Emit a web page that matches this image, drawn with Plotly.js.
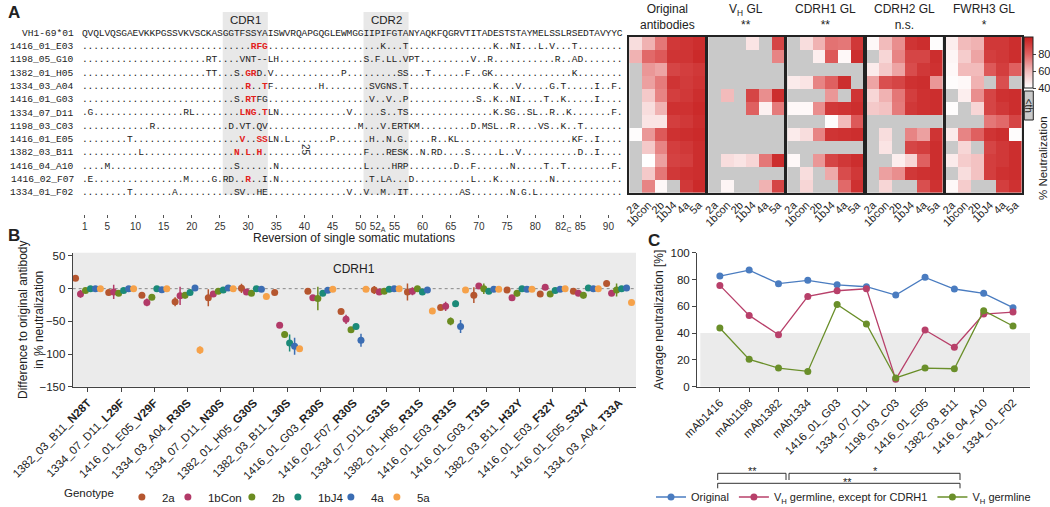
<!DOCTYPE html>
<html>
<head>
<meta charset="utf-8">
<script src="https://cdn.plot.ly/plotly-3.0.1.min.js"></script>
<style>
  body { margin: 0; background: #fff; }
  #fig { width: 1050px; height: 507px; }
</style>
</head>
<body>
<div id="fig"></div>
<script>
// ---------- panel A: alignment ----------
const germline = 'QVQLVQSGAEVKKPGSSVKVSCKASGGTFSSYAISWVRQAPGQGLEWMGGIIPIFGTANYAQKFQGRVTITADESTSTAYMELSSLRSEDTAVYYC';
const antibodies = ['1416_01_E03', '1198_05_G10', '1382_01_H05', '1334_03_A04', '1416_01_G03', '1334_07_D11',
  '1198_03_C03', '1416_01_E05', '1382_03_B11', '1416_04_A10', '1416_02_F07', '1334_01_F02'];
// amino acid + position in the aligned string (dots elsewhere)
const mutations = [
  'R31 F32 G33 K54 T58 K74 N77 I78 L82 V84 T88',
  'R23 T24 V29 N30 T31 -32 -33 L34 H35 S51 F53 L55 L56 V58 P59 T60 V70 R73 R85 A88 D89',
  'T23 T24 S28 G30 R31 D32 V34 P47 S57 S58 T62 F69 G72 K73 K88',
  'R30 T33 F34 H43 S52 V53 G54 N55 S56 T58 K74 V78 G84 T86 I92 F95',
  'S28 R30 T31 F32 G33 V52 V55 P58 S71 K74 N77 I78 T83 K86 I92',
  'G2 R19 L20 L29 N30 G31 T33 L34 N35 V48 S54 T57 S58 K74 S76 G77 S80 L81 R84 K87 F95',
  'R13 D27 V29 T30 Q32 V33 M50 V54 E56 R57 T58 K59 M60 D70 M72 S73 L74 R77 V82 S83 K86 T89',
  'T9 V29 S32 S33 L34 N35 L37 P45 H52 N55 G57 R63 K66 L67 K88 F89 I92',
  'L11 N28 L30 H32 F51 R55 E56 S57 K58 N61 R63 D64 S69 L75 V78 D89 I92',
  'M5 S28 N35 L51 H56 R57 P58 D67 F70 N77 T83 T86 F95',
  'E2 M19 G24 R26 D27 R30 I33 N35 T52 L54 A55 D59 L70 K74 N84',
  'T9 A17 S28 V29 H32 E33 V48 V51 M54 I57 T58 A68 S69 N77 G79 L81'
];
const redPos = [[31, 32, 33], [], [30, 31], [30, 33], [30, 31], [29, 30, 31, 33], [], [29, 32, 33], [28, 30, 32], [], [30], []];
const rulerIdx = [1, 5, 10, 15, 20, 25, 30, 35, 40, 45, 50, 53, 56, 61, 66, 71, 76, 81, 86, 89, 94];
const rulerText = ['1', '5', '10', '15', '20', '25', '30', '35', '40', '45', '50', '52<sub>A</sub>', '55', '60', '65', '70', '75', '80', '82<sub>C</sub>', '85', '90'];

// ---------- panel A: heatmaps (% neutralization, null = below threshold) ----------
const N = null;
const hmCols = ['2a', '1bcon', '2b', '1bJ4', '4a', '5a'];
const hmTitles = ['Original<br>antibodies', 'V<sub>H</sub> GL<br>**', 'CDRH1 GL<br>**', 'CDRH2 GL<br>n.s.', 'FWRH3 GL<br>*'];
const hmOriginal = [
  [50, 62, 75, 92, 93, 95], [62, 78, 82, 93, 93, 96], [N, 68, 65, 88, 90, 92], [N, 66, 74, 93, 91, 93],
  [N, 56, 72, 90, 92, 95], [N, 50, 62, 94, 94, 96], [N, 48, 48, 90, 92, 95], [41, 68, 82, 94, 95, 96],
  [N, 56, 72, 90, 92, 95], [N, 40, 66, 89, 90, 95], [N, 56, 75, 92, 94, 95], [N, 72, 42, N, 92, 96]];
const hmVhGL = [
  [N, N, N, 48, N, 88], [N, N, N, N, N, 72], [N, N, N, N, N, N], [N, N, N, N, N, N],
  [N, 60, N, 88, 70, 95], [N, N, N, 80, 44, 74], [N, N, N, N, N, N], [N, N, N, N, N, N],
  [N, N, N, N, N, N], [N, 50, 48, 52, 75, 95], [N, N, N, N, N, N], [N, 43, N, N, 62, 88]];
const hmCdrh1GL = [
  [N, 50, 62, 76, 75, 92], [N, N, 45, 82, 42, 95], [N, N, N, N, N, N], [46, 48, 72, 80, 95, N],
  [N, N, N, 68, N, 93], [42, 42, 70, 92, 93, 95], [N, N, N, 41, 60, 82], [46, 50, 72, 93, 94, 95],
  [N, N, N, N, N, N], [42, N, 68, 88, 92, 95], [N, 50, N, 64, 86, 92], [N, 52, N, N, 78, 94]];
const hmCdrh2GL = [
  [42, 60, 70, 93, 95, 41], [N, 52, 72, 88, 88, 95], [46, 56, 65, 86, 92, 94], [65, 85, 88, 94, 95, 68],
  [52, 62, 75, 90, 94, 95], [56, 58, 74, 92, 94, 95], [N, N, N, N, N, N], [N, 50, N, 72, 66, 93],
  [N, 48, N, 88, 90, 95], [N, N, 45, 52, 80, 95], [N, 66, 70, 92, 94, 95], [N, 52, N, N, 85, 94]];
const hmFwrh3GL = [
  [45, 60, 62, 92, 92, 95], [43, 55, 65, 90, 92, 95], [42, 60, 60, 82, 90, 80], [41, 42, 62, N, 85, N],
  [N, 45, 70, 88, 94, 95], [41, N, 52, 88, 92, 95], [N, N, N, 75, 78, 88], [46, 72, 80, 93, 95, 41],
  [N, 52, N, 88, 92, 95], [46, 55, 58, 90, 92, 95], [N, 50, 58, 90, 94, 95], [42, 55, N, N, 90, 94]];

// ---------- panel B ----------
const mutIds = ['1382_03_B11_N28T', '1334_07_D11_L29F', '1416_01_E05_V29F', '1334_03_A04_R30S', '1334_07_D11_N30S',
  '1382_01_H05_G30S', '1382_03_B11_L30S', '1416_01_G03_R30S', '1416_02_F07_R30S', '1334_07_D11_G31S',
  '1382_01_H05_R31S', '1416_01_E03_R31S', '1416_01_G03_T31S', '1382_03_B11_H32Y', '1416_01_E03_F32Y',
  '1416_01_E05_S32Y', '1334_03_A04_T33A'];
const genotypes = ['2a', '1bCon', '2b', '1bJ4', '4a', '5a'];
const genoColors = ['#b5562f', '#b23a68', '#6b8c21', '#1b8a78', '#3b6db3', '#f6a24a'];
const diff2a = [16, -6, -10, -20, -14, 0.5, -6, -4, -35, -2, -5, -29, -10, -2, -8, -4, 8];
const diff1bCon = [-8, -5, -21, -11, -8, -5, -56, -14, -47, -5, -4, -27, 4, -14, 2, -7, -7];
const diff2b = [-3, -7, -13, -10, -4, -7, -70, -15, -63, -4, 0, -50, 0, -7, -8, -10, -2];
const diff1bJ4 = [0, -3, 0, -6, -2, 0, -83, -7, -58, -1, -5, -23, -4, 0, -3, 1, 0];
const diff4a = [0, 0, -1.5, 1, 1, -1, -88, -2.5, -79, 0, -2, -58, -1, -1, -1, 0, 1];
const diff5a = [0, 0, 0, -94, 0, -12, -92, -1, -1, 0, -34, -2, -1, -1, 0, 0, -21];
const err2a = [2, 4, 2, 7, 13, 7, 3, 4, 3, 6, 13, 2, 12, 2, 2, 4, 2];
const err1bCon = [6, 11, 6, 14, 4, 2, 2, 4, 7, 2, 6, 7, 2, 2, 2, 2, 2];
const err2b = [2, 2, 2, 5, 2, 2, 5, 18, 2, 2, 2, 6, 8, 5, 2, 5, 10];
const err1bJ4 = [2, 2, 2, 2, 2, 2, 13, 3, 4, 2, 2, 5, 2, 2, 2, 2, 2];
const err4a = [2, 2, 2, 2, 2, 2, 13, 2, 10, 2, 2, 10, 2, 2, 2, 2, 2];
const err5a = [2, 2, 2, 6, 2, 2, 3, 2, 2, 2, 2, 2, 2, 2, 2, 2, 2];

// ---------- panel C ----------
const abLabels = ['mAb1416', 'mAb1198', 'mAb1382', 'mAb1334', '1416_01_G03', '1334_07_D11', '1198_03_C03',
  '1416_01_E05', '1382_03_B11', '1416_04_A10', '1334_01_F02'];
const neutOriginal = [82.6, 87, 76.9, 79.4, 76, 74.6, 68.4, 81.6, 72.9, 69.7, 59];
const neutExceptCdrh1 = [75.6, 53.2, 38.8, 67.4, 71.6, 73.1, 5.5, 42.3, 29.4, 54.2, 55.7];
const neutVhGermline = [43.8, 20.4, 13.9, 11.4, 61.4, 46.8, 6.5, 13.9, 13.4, 56.7, 45.3];

// pixel -> paper helpers
const W = 1050, H = 507;
const PX = x => x / W;
const PY = y => 1 - y / H;

// one text point per residue, so every letter sits on its alignment column
const seqX = [], seqY = [], seqT = [], seqC = [];
const seqRows = [germline].concat(mutations.map(m => {
  const chars = germline.split('').map(() => '.');
  m.split(' ').forEach(s => { chars[+s.slice(1) - 1] = s[0]; });
  return chars.join('');
}));
seqRows.forEach((row, r) => {
  const red = r > 0 ? redPos[r - 1] : [];
  row.split('').forEach((c, i) => {
    const isRed = red.includes(i + 1);
    seqX.push(i + 1); seqY.push(r);
    seqT.push(isRed ? '<b>' + c + '</b>' : c);
    seqC.push(isRed ? '#e3221c' : '#222');
  });
});
const seqNames = ['VH1-69*01'].concat(antibodies);
const mono = 'Liberation Mono, Courier New, monospace';

const data = [];
data.push({
  type: 'scatter', mode: 'text', x: seqX, y: seqY, text: seqT,
  textposition: 'middle center', textfont: {family: mono, size: 9.6, color: seqC},
  xaxis: 'x8', yaxis: 'y8', showlegend: false, hoverinfo: 'skip', cliponaxis: false, offsetgroup: 's'
});

// heatmaps
const hmData = [hmOriginal, hmVhGL, hmCdrh1GL, hmCdrh2GL, hmFwrh3GL];
const hmX = [[629.3, 705], [708.3, 784.3], [787.3, 863.3], [866.7, 942.7], [945.7, 1021.7]];
const redScale = [[0, '#ffffff'], [0.33, '#f2bcbc'], [0.67, '#df5f5f'], [1, '#c61d1d']];
hmData.forEach((z, k) => {
  data.push({
    type: 'heatmap', z: z, x: hmCols, y: antibodies, xaxis: 'x' + (k + 3), yaxis: 'y' + (k + 3),
    zmin: 40, zmax: 100, colorscale: redScale, showscale: k === 0, hoverongaps: false,
    colorbar: {
      x: PX(1024.3), xanchor: 'left', y: PY(62.8), yanchor: 'middle', len: 51, lenmode: 'pixels',
      thickness: 9, outlinewidth: 1, outlinecolor: '#222', tickvals: [40, 60, 80], ticks: 'outside',
      ticklen: 3, tickfont: {size: 11}, xpad: 0, ypad: 0
    }
  });
});

// panel B
const diffs = [diff2a, diff1bCon, diff2b, diff1bJ4, diff4a, diff5a];
const errs = [err2a, err1bCon, err2b, err1bJ4, err4a, err5a];
const legendW = [1, 19, 1, 8, 1, 14];
genotypes.forEach((g, k) => {
  data.push({
    type: 'scatter', mode: 'markers', x: mutIds, y: diffs[k], name: g, xaxis: 'x', yaxis: 'y',
    marker: {size: 7, color: genoColors[k]}, legend: 'legend', legendwidth: legendW[k], cliponaxis: false,
    error_y: {type: 'data', array: errs[k], visible: true, color: genoColors[k], thickness: 1.5, width: 0}
  });
});

// panel C
const cSeries = [
  {name: 'Original', y: neutOriginal, color: '#4a7cc0'},
  {name: 'V<sub>H</sub> germline, except for CDRH1', y: neutExceptCdrh1, color: '#b8406a'},
  {name: 'V<sub>H</sub> germline', y: neutVhGermline, color: '#6a8f2a'}
];
cSeries.forEach(s => {
  data.push({
    type: 'scatter', mode: 'lines+markers', x: abLabels, y: s.y, name: s.name, xaxis: 'x2', yaxis: 'y2',
    line: {color: s.color, width: 1.3}, marker: {size: 7, color: s.color}, legend: 'legend2', offsetgroup: 'c'
  });
});

const axisLine = {showline: true, linecolor: '#444', linewidth: 1, showgrid: false, zeroline: false,
  ticks: 'outside', ticklen: 4, tickcolor: '#444'};

const layout = {
  width: W, height: H,
  margin: {l: 0, r: 0, t: 0, b: 0, autoexpand: false},
  paper_bgcolor: '#fff', plot_bgcolor: 'rgba(0,0,0,0)',
  font: {family: 'Liberation Sans, Arial, sans-serif', size: 12, color: '#222'},
  scattermode: 'group', scattergap: 0.1,
  xaxis: Object.assign({}, axisLine, {
    domain: [PX(72.7), PX(636)], anchor: 'y', type: 'category', range: [-0.46, 16.51],
    tickmode: 'array', tickvals: mutIds, ticktext: mutIds.map(s => s.slice(0, 12) + '<b>' + s.slice(12) + '</b>'),
    tickangle: -45, tickfont: {size: 11.5}
  }),
  yaxis: Object.assign({}, axisLine, {
    domain: [PY(386.7), PY(252.7)], anchor: 'x', range: [-150, 55], tickvals: [-150, -100, -50, 0, 50],
    tickfont: {size: 11.5}
  }),
  xaxis2: Object.assign({}, axisLine, {
    domain: [PX(697), PX(1030)], anchor: 'y2', type: 'category', range: [-0.78, 10.58],
    tickmode: 'array', tickvals: abLabels, tickangle: -45, tickfont: {size: 11.5}
  }),
  yaxis2: Object.assign({}, axisLine, {
    domain: [PY(386.7), PY(252.7)], anchor: 'x2', range: [0, 100], dtick: 20, tickfont: {size: 11.5},
    title: {text: 'Average neutralization [%]', font: {size: 12}, standoff: 4}
  }),
  xaxis8: {
    domain: [0, PX(640)], anchor: 'y8', range: [-14.065, 99.61], tickvals: rulerIdx, ticktext: rulerText,
    tickangle: 0, ticks: 'outside', ticklen: 3, tickcolor: '#555', showline: false, showgrid: false,
    zeroline: false, tickfont: {size: 10, color: '#333'}
  },
  yaxis8: {domain: [PY(214), PY(5)], anchor: 'x8', range: [13.59, -2.128], visible: false},
  legend: {
    orientation: 'h', x: PX(62), xanchor: 'left', y: PY(497), yanchor: 'middle',
    title: {text: 'Genotype', side: 'left', font: {size: 11.5}}, font: {size: 11.5}, bgcolor: 'rgba(0,0,0,0)', itemwidth: 30
  },
  legend2: {
    orientation: 'h', x: PX(1036), xanchor: 'right', y: PY(497), yanchor: 'middle',
    font: {size: 11}, bgcolor: 'rgba(0,0,0,0)', itemwidth: 30
  },
  shapes: [],
  annotations: []
};

const txt = (x, y, text, extra) => Object.assign({xref: 'paper', yref: 'paper', x: PX(x), y: PY(y), text: text,
  xanchor: 'center', yanchor: 'middle', showarrow: false}, extra || {});

// row names of the alignment
seqNames.forEach((nm, r) => {
  layout.annotations.push({xref: 'x8', yref: 'y8', x: -0.5, y: r, text: nm, xanchor: 'right', yanchor: 'middle',
    showarrow: false, font: {family: mono, size: 9.6, color: '#222'}});
});

// heatmap axes, gray "below threshold" backgrounds and titles
hmX.forEach((xr, k) => {
  const n = k + 3;
  const frame = {showline: true, mirror: true, linecolor: '#222', linewidth: 1.5, showgrid: false, zeroline: false, ticks: ''};
  layout['xaxis' + n] = Object.assign({}, frame, {domain: [PX(xr[0]), PX(xr[1])], anchor: 'y' + n,
    type: 'category', tickmode: 'array', tickvals: hmCols, tickangle: -45, tickfont: {size: 11}});
  layout['yaxis' + n] = Object.assign({}, frame, {domain: [PY(192.7), PY(36.7)], anchor: 'x' + n,
    type: 'category', autorange: 'reversed', showticklabels: false});
  layout.shapes.push({type: 'rect', xref: 'x' + n + ' domain', yref: 'y' + n + ' domain', x0: 0, x1: 1, y0: 0, y1: 1,
    fillcolor: '#c9c9c9', line: {width: 0}, layer: 'below'});
  layout.annotations.push(txt((xr[0] + xr[1]) / 2, 34, hmTitles[k], {yanchor: 'bottom', font: {size: 12}}));
});

// CDR boxes in the alignment
[[25.5, 33.5, 'CDR1'], [50.5, 58.5, 'CDR2']].forEach(c => {
  layout.shapes.push({type: 'rect', xref: 'x8', yref: 'y8', x0: c[0], x1: c[1], y0: -1.6, y1: 12.15,
    fillcolor: '#e8e8e8', line: {width: 0}, layer: 'below'});
  layout.annotations.push({xref: 'x8', yref: 'y8', x: (c[0] + c[1]) / 2, y: -1.0, text: c[2], showarrow: false,
    xanchor: 'center', yanchor: 'middle', font: {size: 11.5}});
});

// panel B background and zero line
layout.shapes.push({type: 'rect', xref: 'x domain', yref: 'y domain', x0: 0, x1: 1, y0: 0, y1: 1,
  fillcolor: '#ebebeb', line: {width: 0}, layer: 'below'});
layout.shapes.push({type: 'line', xref: 'x domain', yref: 'y', x0: 0, x1: 1, y0: 0, y1: 0,
  line: {color: '#8a8a8a', width: 1, dash: 'dot'}, layer: 'below'});
// panel C threshold band
layout.shapes.push({type: 'rect', xref: 'x2 domain', yref: 'y2', x0: 0.01, x1: 1, y0: 0, y1: 40,
  fillcolor: '#ebebeb', line: {width: 0}, layer: 'below'});
// "<th" key box
layout.shapes.push({type: 'rect', xref: 'paper', yref: 'paper', x0: PX(1024.3), x1: PX(1033.3), y0: PY(120), y1: PY(91),
  fillcolor: '#c9c9c9', line: {color: '#222', width: 1}});

// significance brackets
function bracket(x0, x1, yTop, yEnd) {
  return {type: 'path', xref: 'paper', yref: 'paper', line: {color: '#333', width: 1},
    path: `M ${PX(x0)},${PY(yEnd)} L ${PX(x0)},${PY(yTop)} L ${PX(x1)},${PY(yTop)} L ${PX(x1)},${PY(yEnd)}`};
}
layout.shapes.push(bracket(717.7, 786, 473.3, 480));
layout.shapes.push(bracket(789, 960, 473.3, 480));
layout.shapes.push(bracket(717.7, 960, 483.3, 488.3));

layout.annotations.push(
  txt(14, 12, '<b>A</b>', {font: {size: 17}}),
  txt(14, 236, '<b>B</b>', {font: {size: 17}}),
  txt(654, 240, '<b>C</b>', {font: {size: 17}}),
  txt(305, 150, '25', {textangle: 90, font: {size: 10, color: '#333'}}),
  txt(1043, 158, '% Neutralization', {textangle: -90, font: {size: 11.5}}),
  txt(1028.8, 105.5, '&lt;th', {textangle: 90, font: {size: 10}}),
  txt(31, 320, 'Difference to original antibody<br>in % neutralization', {textangle: -90, font: {size: 12}}),
  txt(354, 238, 'Reversion of single somatic mutations', {font: {size: 12}}),
  txt(354, 269, 'CDRH1', {font: {size: 12}}),
  txt(752, 471, '**', {font: {size: 11}}),
  txt(875, 471, '*', {font: {size: 11}}),
  txt(847, 482, '**', {font: {size: 11}})
);

Plotly.newPlot('fig', data, layout, {displayModeBar: false});
</script>
</body>
</html>
